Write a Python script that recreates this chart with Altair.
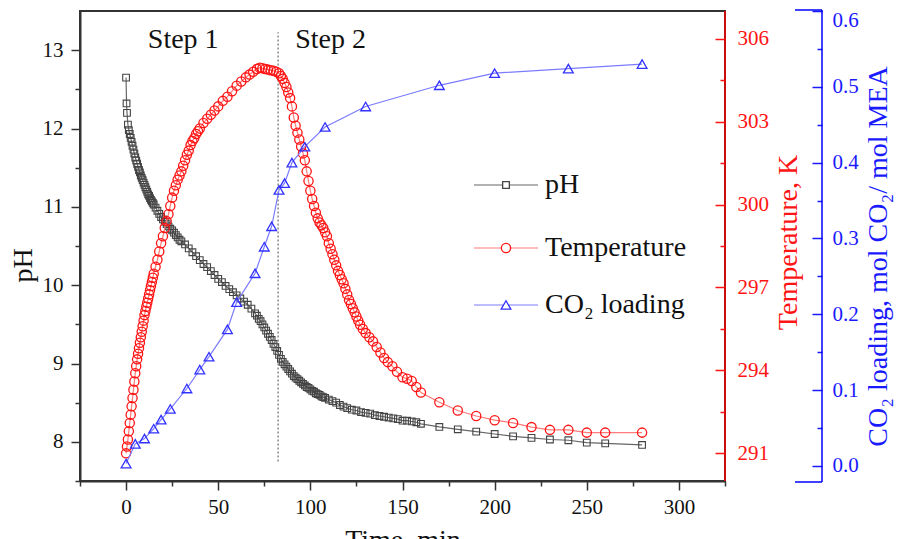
import altair as alt
import pandas as pd

# ---------------- data ----------------
ph_time = [0, 0.25, 0.5, 1, 1.5, 2, 2.5, 3, 3.5, 4, 4.5, 5, 5.5, 6, 6.5, 7, 7.5, 8, 8.5, 9, 9.5, 10,
           10.5, 11, 11.5, 12, 12.5, 13, 13.5, 14, 14.5, 15,
           16, 17, 18, 19, 20, 21, 22, 23, 24, 25, 26, 27, 28, 29, 30,
           32, 34, 36, 38, 40, 42, 44, 46, 48, 50, 52, 54, 56, 58, 60, 62, 64, 66, 68, 70,
           71, 72, 73, 74, 75, 76, 77, 78, 79, 80, 81, 82, 83, 84, 85, 86, 87, 88, 89, 90,
           91, 92, 93, 94, 95, 96, 97, 98, 99, 100, 101, 102, 103, 104, 105, 106, 107, 108,
           110, 112, 114, 116, 118, 120, 122.5, 125, 127.5, 130, 132.5, 135, 137.5, 140, 142.5,
           145, 147.5, 150, 152.5, 155, 157.5, 160,
           170, 180, 190, 200, 210, 220, 230, 240, 250, 260, 280]
ph_value = [12.65, 12.32, 12.2, 12.05, 11.98, 11.93, 11.88, 11.83, 11.78, 11.73, 11.68, 11.63, 11.59,
            11.55, 11.51, 11.47, 11.44, 11.4, 11.37, 11.34, 11.31, 11.28, 11.25, 11.22, 11.19, 11.16,
            11.14, 11.11, 11.09, 11.07, 11.05, 11.03,
            10.99, 10.95, 10.91, 10.87, 10.84, 10.81, 10.78, 10.75, 10.72, 10.7, 10.67, 10.64, 10.61,
            10.58, 10.56,
            10.52, 10.47, 10.42, 10.37, 10.32, 10.27, 10.23, 10.18, 10.13, 10.08, 10.04, 9.99, 9.95,
            9.91, 9.87, 9.83, 9.79, 9.75, 9.7, 9.64,
            9.61, 9.57, 9.54, 9.5, 9.46, 9.42, 9.38, 9.34, 9.3, 9.25, 9.21, 9.16, 9.11, 9.06, 9.02,
            8.99, 8.96, 8.93, 8.9, 8.87, 8.84, 8.82, 8.8, 8.78, 8.76, 8.74, 8.72, 8.7, 8.69, 8.67,
            8.65, 8.64, 8.62, 8.61, 8.6, 8.58, 8.57, 8.56,
            8.54, 8.52, 8.5, 8.47, 8.45, 8.43, 8.41, 8.4, 8.38, 8.37, 8.36, 8.34, 8.33, 8.32, 8.31,
            8.3, 8.29, 8.27, 8.27, 8.26, 8.25, 8.23,
            8.19, 8.16, 8.13, 8.1, 8.07, 8.05, 8.03, 8.02, 7.99, 7.98, 7.96]

temp_time = [0, 0.5, 1, 1.5, 2, 2.5, 3, 3.5, 4, 4.5, 5, 5.5, 6, 6.5, 7, 7.5, 8, 8.5, 9, 9.5, 10,
             10.5, 11, 11.5, 12, 12.5, 13, 13.5, 14, 14.5, 15,
             16, 17, 18, 19, 20, 21, 22, 23, 24, 25, 26, 27, 28, 29, 30, 31, 32, 33, 34, 35, 36,
             37, 38, 39, 40,
             42, 44, 46, 48, 50, 52.5, 55, 57.5, 60, 62.5, 65, 67, 69, 71, 72.5, 74, 75.5, 77,
             78.5, 80, 81.5, 83,
             84, 85, 86, 87, 88, 89, 90, 91, 92, 93, 94, 95, 96, 97, 98, 99, 100, 101, 102, 103,
             104, 105, 106, 107, 108, 109, 110, 111, 112, 113, 114, 115, 116, 117, 118, 119, 120,
             121, 122, 123, 124, 125, 126, 127,
             128.5, 130, 132, 134, 136, 138, 140, 142, 144.5, 147, 150, 152.5, 155, 157.5, 160,
             170, 180, 190, 200, 210, 220, 230, 240, 250, 260, 280]
temp_value = [291.0, 291.25, 291.5, 291.8, 292.1, 292.4, 292.7, 293.0, 293.3, 293.6, 293.9, 294.15,
              294.4, 294.6, 294.8, 295.0, 295.2, 295.4, 295.6, 295.8, 296.0, 296.15, 296.3, 296.45,
              296.6, 296.75, 296.9, 297.05, 297.2, 297.35, 297.5,
              297.75, 298.0, 298.3, 298.6, 298.85, 299.15, 299.4, 299.65, 299.95, 300.25, 300.5,
              300.7, 300.9, 301.05, 301.2, 301.4, 301.6, 301.8, 301.95, 302.15, 302.3, 302.4,
              302.55, 302.65, 302.75,
              302.95, 303.1, 303.25, 303.4, 303.55, 303.75, 303.9, 304.1, 304.3, 304.45, 304.6,
              304.7, 304.8, 304.9, 304.95, 304.93, 304.9, 304.88, 304.86, 304.84, 304.8, 304.75,
              304.65, 304.55, 304.4, 304.25, 304.05, 303.85, 303.55, 303.15, 302.85, 302.6,
              302.35, 302.1, 301.85, 301.6, 301.2, 300.85, 300.5, 300.2, 299.95, 299.7,
              299.5, 299.35, 299.25, 299.15, 299.0, 298.85, 298.6, 298.4, 298.2, 298.0,
              297.8, 297.6, 297.45, 297.3, 297.15, 296.95, 296.75, 296.55, 296.4, 296.25,
              296.1, 295.95, 295.8, 295.65,
              295.5, 295.35, 295.2, 295.05, 294.85, 294.65, 294.45, 294.3, 294.15, 293.95, 293.75,
              293.7, 293.62, 293.4, 293.2,
              292.85, 292.55, 292.35, 292.2, 292.1, 291.95, 291.85, 291.85, 291.75, 291.75, 291.75]

co2_time = [0, 5, 10, 15, 19, 24, 33, 40, 45, 55, 60, 70, 75, 79, 83, 86, 90, 97, 108, 130, 170,
            200, 240, 280]
co2_value = [0.003, 0.029, 0.036, 0.049, 0.061, 0.075, 0.102, 0.127, 0.144, 0.18, 0.216, 0.254,
             0.289, 0.316, 0.364, 0.373, 0.4, 0.421, 0.447, 0.474, 0.502, 0.518, 0.524, 0.53]

step_labels = ["Step 1", "Step 2"]
step_time = [31, 111]
step_level = [13.13, 13.13]
boundary_time = [82.5]
boundary_low = [7.75]
boundary_high = [13.23]

x_ticks = [-25, 0, 25, 50, 75, 100, 125, 150, 175, 200, 225, 250, 275, 300, 325]
ph_ticks = [7.5, 8, 8.5, 9, 9.5, 10, 10.5, 11, 11.5, 12, 12.5, 13]
temp_ticks = [291, 292.5, 294, 295.5, 297, 298.5, 300, 301.5, 303, 304.5, 306]
co2_ticks = [0.0, 0.05, 0.1, 0.15, 0.2, 0.25, 0.3, 0.35, 0.4, 0.45, 0.5, 0.55, 0.6]
legend_labels = ["pH", "Temperature", "CO\u2082 loading"]

assert len(ph_time) == len(ph_value)
assert len(temp_time) == len(temp_value)
assert len(co2_time) == len(co2_value)

ph_df = pd.DataFrame({"t": ph_time, "v": ph_value})
temp_df = pd.DataFrame({"t": temp_time, "v": temp_value})
co2_df = pd.DataFrame({"t": co2_time, "v": co2_value})
step_df = pd.DataFrame({"t": step_time, "v": step_level, "label": step_labels})
bound_df = pd.DataFrame({"t": boundary_time, "v": boundary_low, "v2": boundary_high})
one = pd.DataFrame({"k": [0]})

# ---------------- style ----------------
W, H = 645, 470
SERIF = "Liberation Serif"
DARK = "#333333"
RED = "#ff1414"
BLUE = "#1a1aff"
LAB = 21
TIT = 28

xaxis = alt.Axis(
    values=x_ticks, title="Time, min", grid=False,
    labelExpr="datum.value % 50 === 0 ? format(datum.value, 'd') : ''",
    labelFont=SERIF, labelFontSize=LAB, labelColor="#111", labelPadding=6,
    labelOverlap=False, labelFlush=False, labelBound=False,
    titleFont=SERIF, titleFontSize=TIT, titleFontWeight="normal", titleColor="#111",
    titleX=W / 2, titleY=45, titleBaseline="top", titleAlign="center",
    domainColor=DARK, domainWidth=2, tickColor=DARK, tickWidth=1.5,
    tickSize={"condition": {"test": "datum.value % 50 !== 0", "value": 5}, "value": 9},
)
xscale = alt.Scale(domain=[-25, 325], nice=False, zero=False)


def X():
    return alt.X("t:Q", scale=xscale, axis=xaxis)


ph_axis = alt.Axis(
    values=ph_ticks, title="pH", grid=False, orient="left",
    labelExpr="datum.value % 1 === 0 ? format(datum.value, 'd') : ''",
    labelFont=SERIF, labelFontSize=LAB, labelColor="#111", labelPadding=8,
    labelOverlap=False, labelFlush=False, labelBound=False,
    titleFont=SERIF, titleFontSize=TIT, titleFontWeight="normal", titleColor="#111",
    titleAngle=270, titleX=-57, titleY=254, titleBaseline="middle", titleAlign="center",
    domainColor=DARK, domainWidth=2, tickColor=DARK, tickWidth=1.5,
    tickSize={"condition": {"test": "datum.value % 1 !== 0", "value": 5}, "value": 9},
)
ph_scale = alt.Scale(domain=[7.5, 13.5], nice=False, zero=False)


def YPH():
    return alt.Y("v:Q", scale=ph_scale, axis=ph_axis)


temp_axis = alt.Axis(
    values=temp_ticks, title="Temperature, K", grid=False, orient="right", offset=-10,
    domain=False,
    labelExpr="datum.value % 3 === 0 ? format(datum.value, 'd') : ''",
    labelFont=SERIF, labelFontSize=LAB, labelColor=RED, labelPadding=12,
    labelOverlap=False, labelFlush=False, labelBound=False,
    titleFont=SERIF, titleFontSize=TIT, titleFontWeight="normal", titleColor=RED,
    titleAngle=270, titleX=73, titleY=231, titleBaseline="middle", titleAlign="center",
    tickColor=RED, tickWidth=1.5, tickSize=10,
    tickDash={"condition": {"test": "datum.value % 3 !== 0", "value": [5, 5]}, "value": [20, 0]},
    tickDashOffset={"condition": {"test": "datum.value % 3 !== 0", "value": 5}, "value": 0},
)
temp_scale = alt.Scale(domain=[290, 307], nice=False, zero=False)

co2_axis = alt.Axis(
    values=co2_ticks, title="CO\u2082 loading, mol CO\u2082/ mol MEA", grid=False, orient="right",
    offset=87, domain=False,
    labelExpr="round(datum.value * 20) % 2 === 0 ? format(datum.value, '.1f') : ''",
    labelFont=SERIF, labelFontSize=LAB, labelColor=BLUE, labelPadding=10,
    labelOffset={"condition": {"test": "datum.value > 0.59", "value": 9}, "value": 0},
    labelOverlap=False, labelFlush=False, labelBound=False,
    titleFont=SERIF, titleFontSize=TIT, titleFontWeight="normal", titleColor=BLUE,
    titleAngle=270, titleX=66, titleY=245, titleBaseline="middle", titleAlign="center",
    tickColor=BLUE, tickWidth=1.5, tickSize=10,
    tickDash={"condition": {"test": "round(datum.value * 20) % 2 === 1", "value": [5, 5]},
              "value": [20, 0]},
    tickDashOffset={"condition": {"test": "round(datum.value * 20) % 2 === 1", "value": 5},
                    "value": 0},
)
co2_scale = alt.Scale(domain=[-0.02, 0.6], nice=False, zero=False)

# ---------------- layers ----------------
ph_layer = alt.layer(
    alt.Chart(bound_df).mark_rule(color="#8a8a8a", strokeWidth=1.5, strokeDash=[2, 2]).encode(
        x=X(), y=YPH(), y2="v2:Q"),
    alt.Chart(step_df).mark_text(font=SERIF, fontSize=TIT, color="#111", baseline="middle",
                                 align="center").encode(x=X(), y=YPH(), text="label:N"),
    alt.Chart(ph_df).mark_line(color="#666666", strokeWidth=1.2).encode(x=X(), y=YPH()),
    alt.Chart(ph_df).mark_point(shape="square", size=45, color="#444444", strokeWidth=1.1,
                                filled=False, opacity=1).encode(x=X(), y=YPH()),
)

temp_y = alt.Y("v:Q", scale=temp_scale, axis=temp_axis)
temp_layer = alt.layer(
    alt.Chart(temp_df).mark_line(color="#ff7a7a", strokeWidth=1.2).encode(x=X(), y=temp_y),
    alt.Chart(temp_df).mark_point(shape="circle", size=85, color=RED, strokeWidth=1.3,
                                  filled=False, opacity=1).encode(x=X(), y=temp_y),
)

co2_y = alt.Y("v:Q", scale=co2_scale, axis=co2_axis)
co2_layer = alt.layer(
    alt.Chart(co2_df).mark_line(color="#7b7bff", strokeWidth=1.2).encode(x=X(), y=co2_y),
    alt.Chart(co2_df).mark_point(shape="triangle-up", size=95, color="#3030ff", strokeWidth=1.3,
                                 filled=False, opacity=1).encode(x=X(), y=co2_y),
)

# axis lines drawn on top (red frame side, blue detached axis with end caps)
deco = [
    alt.Chart(one).mark_rule(color="#ff0000", strokeWidth=1.5).encode(
        x=alt.value(W), y=alt.value(0), y2=alt.value(H)),
    alt.Chart(one).mark_rule(color="#0000ff", strokeWidth=1.5).encode(
        x=alt.value(W + 97), y=alt.value(-1), y2=alt.value(H + 1)),
    alt.Chart(one).mark_rule(color="#0000ff", strokeWidth=1.5).encode(
        x=alt.value(W + 70), x2=alt.value(W + 97), y=alt.value(-1)),
    alt.Chart(one).mark_rule(color="#0000ff", strokeWidth=1.5).encode(
        x=alt.value(W + 70), x2=alt.value(W + 97), y=alt.value(H + 1)),
]

# legend
leg_y = [174, 237, 294]
leg_line = ["#666666", "#ff7a7a", "#7b7bff"]
leg_mark = ["#444444", RED, "#3030ff"]
leg_shape = ["square", "circle", "triangle-up"]
leg_size = [45, 85, 95]
legend = []
for i in range(3):
    legend.append(alt.Chart(one).mark_rule(color=leg_line[i], strokeWidth=1.2).encode(
        x=alt.value(394), x2=alt.value(458), y=alt.value(leg_y[i])))
    legend.append(alt.Chart(one).mark_point(shape=leg_shape[i], size=leg_size[i], filled=True,
                                            fill="white", stroke=leg_mark[i], strokeWidth=1.3,
                                            opacity=1).encode(
        x=alt.value(426), y=alt.value(leg_y[i])))
    legend.append(alt.Chart(one).mark_text(font=SERIF, fontSize=TIT, color="#111", align="left",
                                           baseline="middle").encode(
        x=alt.value(465), y=alt.value(leg_y[i]), text=alt.value(legend_labels[i])))

chart = alt.layer(ph_layer, temp_layer, co2_layer, *deco, *legend).resolve_scale(
    y="independent"
).properties(
    width=W, height=H,
    autosize=alt.AutoSizeParams(type="none"),
    padding={"left": 72, "top": 3, "right": 180, "bottom": 60},
).configure(
    font=SERIF,
    style={"guide-label": {"font": SERIF}, "guide-title": {"font": SERIF}},
).configure_view(stroke=DARK, strokeWidth=2).configure_axis(
    labelFont=SERIF, titleFont=SERIF
)

chart.save("out.html", embed_options={"renderer": "svg", "actions": False})
